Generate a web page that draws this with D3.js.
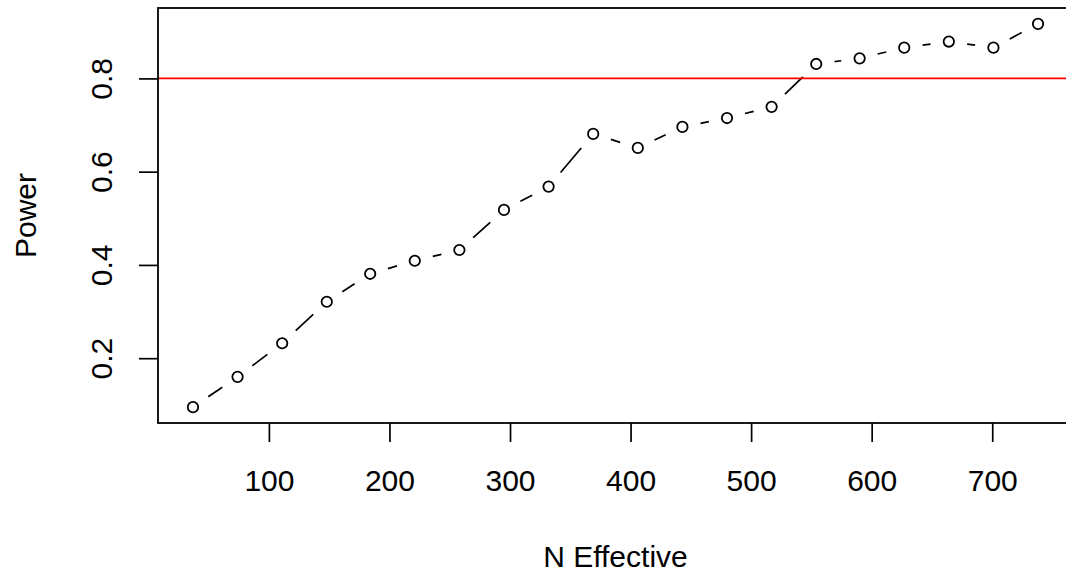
<!DOCTYPE html>
<html>
<head>
<meta charset="utf-8">
<script src="https://cdn.jsdelivr.net/npm/d3@7"></script>
<style>
  body { margin: 0; background: #fff; }
  text { font-family: "Liberation Sans", Arial, Helvetica, sans-serif; fill: #000; }
</style>
</head>
<body>
<div id="chart"></div>
<script>
const w = 1066;
const h = 575;
var margin = {top: 8, right: -7, bottom: 152, left: 158};

//---------------------------------------------data-------------------------------------------------------------
const nEffective = [37, 74, 111, 148, 184, 221, 258, 295, 332, 369, 406, 443, 480, 517, 554, 590, 627, 664, 701, 738];
const power = [0.095, 0.16, 0.232, 0.321, 0.381, 0.409, 0.432, 0.518, 0.568, 0.681, 0.651, 0.696, 0.715, 0.739, 0.831, 0.843, 0.866, 0.879, 0.866, 0.917];
const xTicks = [100, 200, 300, 400, 500, 600, 700];
const yTicks = [0.2, 0.4, 0.6, 0.8];
const target = 0.8;

const fontSize = 30;
const gap = 18.5;   // type="b" leaves a gap around each point

//---------------------------------------------svg-------------------------------------------------------------
var svg = d3.select("#chart")
            .append("svg")
              .attr("width", w)
              .attr("height", h);

var x = d3.scaleLinear()
          .domain([8, 767])
          .range([margin.left, w - margin.right]);

var y = d3.scaleLinear()
          .domain([0.061, 0.951])
          .range([h - margin.bottom, margin.top]);

let dataset = nEffective.map((d, i) => ({n: d, power: power[i]}));

//---------------------------------------------dashed connecting segments----------------------------------------
let segs = [];
for (let i = 0; i < dataset.length - 1; i++) {
  let x0 = x(dataset[i].n), y0 = y(dataset[i].power);
  let x1 = x(dataset[i+1].n), y1 = y(dataset[i+1].power);
  let len = Math.hypot(x1 - x0, y1 - y0);
  if (len <= 2 * gap) continue;
  let ux = (x1 - x0) / len, uy = (y1 - y0) / len;
  segs.push({x1: x0 + ux * gap, y1: y0 + uy * gap, x2: x1 - ux * gap, y2: y1 - uy * gap});
}

svg.selectAll("line.seg")
   .data(segs)
   .enter()
   .append("line")
     .attr("class", "seg")
     .attr("x1", d => d.x1)
     .attr("y1", d => d.y1)
     .attr("x2", d => d.x2)
     .attr("y2", d => d.y2)
     .attr("stroke", "#000")
     .attr("stroke-width", 1.7);

//---------------------------------------------points-------------------------------------------------------------
svg.selectAll("circle")
   .data(dataset)
   .enter()
   .append("circle")
     .attr("cx", d => x(d.n))
     .attr("cy", d => y(d.power))
     .attr("r", 5.2)
     .attr("fill", "none")
     .attr("stroke", "#000")
     .attr("stroke-width", 1.8);

//---------------------------------------------red reference line-----------------------------------------------
svg.append("line")
   .attr("x1", x.range()[0])
   .attr("x2", x.range()[1])
   .attr("y1", y(target))
   .attr("y2", y(target))
   .attr("stroke", "#ff0000")
   .attr("stroke-width", 1.7);

//---------------------------------------------axes-------------------------------------------------------------
var xAxis = d3.axisBottom(x)
              .tickValues(xTicks)
              .tickSize(19)
              .tickSizeOuter(0);

var gx = svg.append("g")
            .attr("transform", "translate(0," + (h - margin.bottom) + ")")
            .call(xAxis);
gx.select(".domain").remove();
gx.selectAll("line").attr("stroke", "#000").attr("stroke-width", 1.7);
gx.selectAll("text")
  .attr("font-size", fontSize)
  .attr("font-family", null)
  .attr("dy", null)
  .attr("y", 491 - (h - margin.bottom));

var yAxis = d3.axisLeft(y)
              .tickValues(yTicks)
              .tickFormat(d3.format(".1f"))
              .tickSize(19)
              .tickSizeOuter(0);

var gy = svg.append("g")
            .attr("transform", "translate(" + margin.left + ",0)")
            .call(yAxis);
gy.select(".domain").remove();
gy.selectAll("line").attr("stroke", "#000").attr("stroke-width", 1.7);
gy.selectAll("text")
  .attr("font-size", fontSize)
  .attr("font-family", null)
  .attr("x", null)
  .attr("dy", null)
  .attr("text-anchor", "middle")
  .attr("transform", "translate(" + (112 - margin.left) + ",0) rotate(-90)");

//---------------------------------------------box-------------------------------------------------------------
svg.append("rect")
   .attr("x", x.range()[0])
   .attr("y", y.range()[1])
   .attr("width", x.range()[1] - x.range()[0])
   .attr("height", y.range()[0] - y.range()[1])
   .attr("fill", "none")
   .attr("stroke", "#000")
   .attr("stroke-width", 1.8);

//---------------------------------------------axis titles------------------------------------------------------
svg.append("text")
   .attr("x", (x.range()[0] + x.range()[1]) / 2)
   .attr("y", 566.5)
   .attr("text-anchor", "middle")
   .attr("font-size", fontSize)
   .text("N Effective");

svg.append("text")
   .attr("transform", "translate(36," + (y.range()[0] + y.range()[1]) / 2 + ") rotate(-90)")
   .attr("text-anchor", "middle")
   .attr("font-size", fontSize)
   .text("Power");
</script>
</body>
</html>
